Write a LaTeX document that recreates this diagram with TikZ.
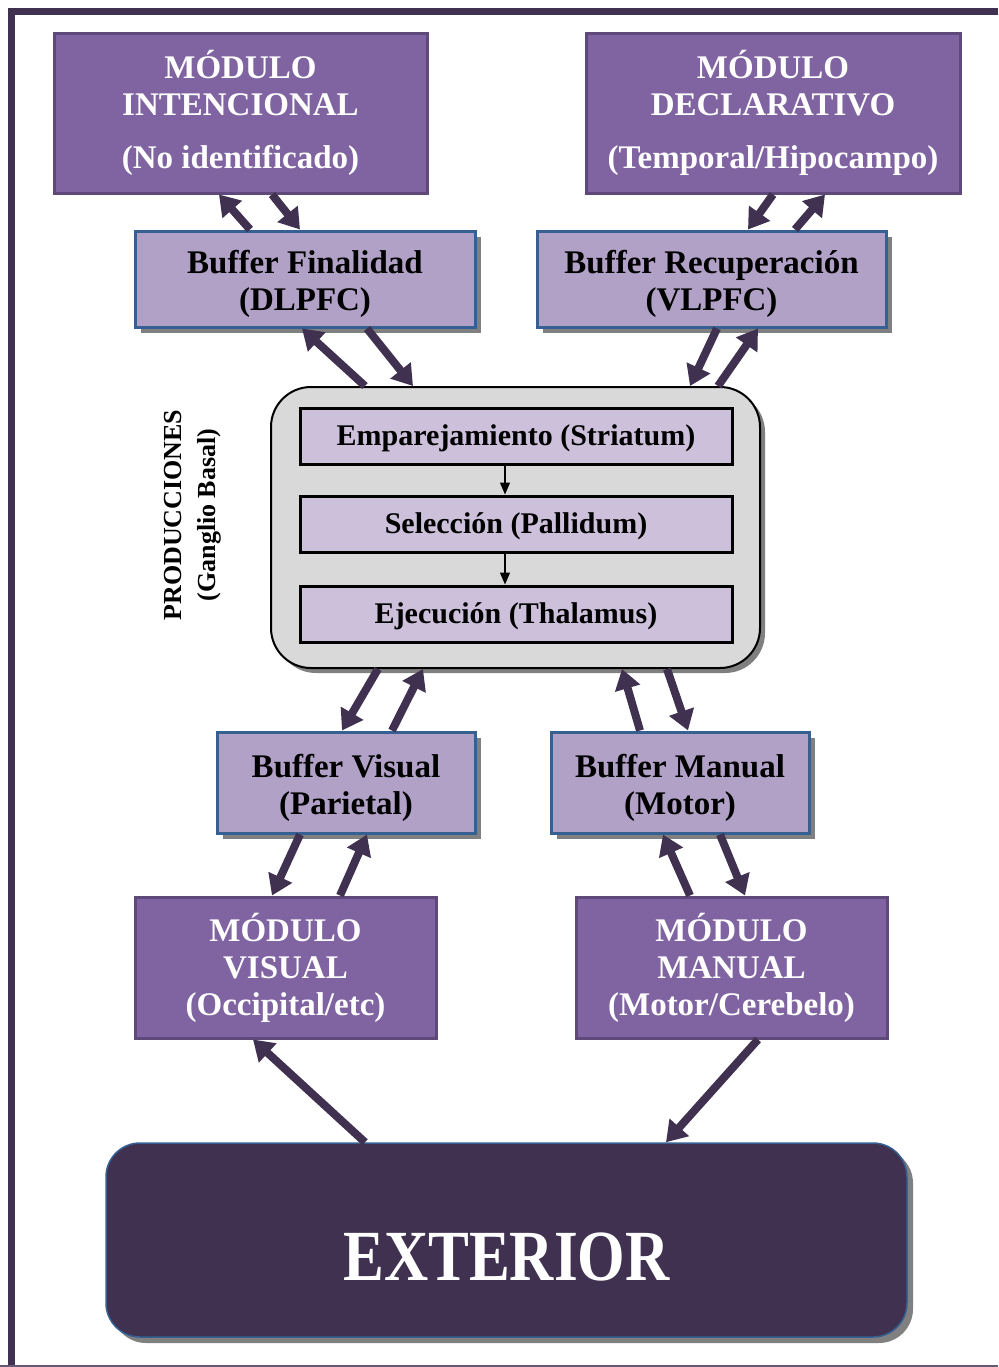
\documentclass[tikz,border=0pt]{standalone}
\usepackage{graphicx}
\usepackage{fontspec}
\setmainfont{Liberation Serif}
\usepackage{tikz}
\usetikzlibrary{arrows.meta,shadows}
\definecolor{modfill}{HTML}{8064A2}
\definecolor{modline}{HTML}{5F497A}
\definecolor{buffill}{HTML}{B2A1C7}
\definecolor{bufline}{HTML}{366092}
\definecolor{etapafill}{HTML}{CCC0DA}
\definecolor{prodfill}{HTML}{D9D9D9}
\definecolor{oscuro}{HTML}{403151}
\definecolor{sombra}{HTML}{808080}
\newcommand{\alto}{\rule{0pt}{17pt}}

\begin{document}
\begin{tikzpicture}[x=0.5pt,y=-0.5pt,
  modulo/.style={draw=modline,line width=1.5pt,fill=modfill,text=white,align=center,inner sep=0pt,
    font=\fontsize{16.5}{18.5}\selectfont\bfseries},
  buffer/.style={draw=bufline,line width=1.5pt,fill=buffill,align=center,inner sep=0pt,
    font=\fontsize{16.5}{18.5}\selectfont\bfseries,
    drop shadow={shadow xshift=3pt,shadow yshift=-3pt,fill=sombra,opacity=1}},
  etapa/.style={draw=black,line width=1.5pt,fill=etapafill,minimum width=216pt,minimum height=28pt,
    inner sep=0pt,text height=11pt,text depth=2pt,font=\fontsize{15}{17}\selectfont\bfseries},
  flecha/.style={draw=oscuro,line width=4pt,-{Triangle[length=10pt,width=12.5pt]}},
  paso/.style={draw=black,line width=0.6pt,-{Triangle[length=6pt,width=5pt]}}]
\useasboundingbox (0,0) rectangle (998,1367);
% marco
\draw[oscuro,line width=3.5pt] (11,1367) -- (11,11.5) -- (998,11.5);
\draw[oscuro!80,line width=1pt] (0,1365.5) -- (998,1365.5);

% modulos y buffers
\node[modulo,minimum width=186.5pt,minimum height=80pt] (modInt) at (240.5,113) {MÓDULO\\INTENCIONAL\\[8pt](No identificado)};
\node[modulo,minimum width=187pt,minimum height=80pt] (modDecl) at (773,113) {MÓDULO\\DECLARATIVO\\[8pt](Temporal/Hipocampo)};
\node[buffer,minimum width=170pt,minimum height=48pt] (bufFin) at (305,279) {\alto Buffer Finalidad\\(DLPFC)};
\node[buffer,minimum width=174.5pt,minimum height=48pt] (bufRec) at (711.5,279) {\alto Buffer Recuperación\\(VLPFC)};

% producciones
\node[draw=black,line width=1pt,fill=prodfill,rounded corners=20pt,minimum width=244.5pt,minimum height=140.5pt,
  drop shadow={shadow xshift=2.5pt,shadow yshift=-2.5pt,fill=sombra,opacity=1}] (prod) at (515.5,527.5) {};
\node[etapa] (emp) at (516,436) {Emparejamiento (Striatum)};
\node[etapa] (sel) at (516,524) {Selección (Pallidum)};
\node[etapa] (eje) at (516,614) {Ejecución (Thalamus)};
\draw[paso] ([xshift=-5.5pt]emp.south) -- ([xshift=-5.5pt]sel.north);
\draw[paso] ([xshift=-5.5pt]sel.south) -- ([xshift=-5.5pt]eje.north);
\node[rotate=90,align=center,font=\fontsize{13}{17}\selectfont\bfseries] (etiqProd) at (193,515) {PRODUCCIONES\\(Ganglio Basal)};

\node[buffer,minimum width=129pt,minimum height=50.5pt] (bufVis) at (346,782.5) {\alto Buffer Visual\\(Parietal)};
\node[buffer,minimum width=129pt,minimum height=50.5pt] (bufMan) at (680,782.5) {\alto Buffer Manual\\(Motor)};
\node[modulo,minimum width=150.5pt,minimum height=70.5pt] (modVis) at (285.5,967.5) {MÓDULO\\VISUAL\\(Occipital/etc)};
\node[modulo,minimum width=155.5pt,minimum height=70.5pt] (modMan) at (731.5,967.5) {MÓDULO\\MANUAL\\(Motor/Cerebelo)};

\node[draw=bufline,line width=0.75pt,fill=oscuro,rounded corners=17pt,minimum width=400.5pt,minimum height=97pt,
  text=white,text height=40pt,text depth=0pt,font=\fontsize{36}{40}\selectfont\bfseries,
  drop shadow={shadow xshift=3pt,shadow yshift=-3pt,fill=sombra,opacity=1}] (ext) at (506.5,1240) {\scalebox{0.85}[1]{EXTERIOR}};

% conexiones
\draw[flecha] ([xshift=-27.5pt]bufFin.north) -- ([xshift=-10.75pt]modInt.south);
\draw[flecha] ([xshift=15.75pt]modInt.south) -- ([xshift=-2.5pt]bufFin.north);
\draw[flecha] ([xshift=-75.25pt]prod.north) -- ([xshift=-1.5pt]bufFin.south);
\draw[flecha] ([xshift=31pt]bufFin.south) -- ([xshift=-51.25pt]prod.north);
\draw[flecha] (modDecl.south) -- ([xshift=18.25pt]bufRec.north);
\draw[flecha] ([xshift=41.75pt]bufRec.north) -- ([xshift=26pt]modDecl.south);
\draw[flecha] ([xshift=2.75pt]bufRec.south) -- ([xshift=87.25pt]prod.north);
\draw[flecha] ([xshift=101.25pt]prod.north) -- ([xshift=23.25pt]bufRec.south);
\draw[flecha] ([xshift=-68.75pt]prod.south) -- ([xshift=-2pt]bufVis.north);
\draw[flecha] ([xshift=23pt]bufVis.north) -- ([xshift=-46.25pt]prod.south);
\draw[flecha] ([xshift=-23pt]bufVis.south) -- ([xshift=-6.75pt]modVis.north);
\draw[flecha] ([xshift=27.25pt]modVis.north) -- ([xshift=10.5pt]bufVis.south);
\draw[flecha] ([xshift=-20pt]bufMan.north) -- ([xshift=53.25pt]prod.south);
\draw[flecha] ([xshift=75.75pt]prod.south) -- ([xshift=4pt]bufMan.north);
\draw[flecha] ([xshift=-20.75pt]modMan.north) -- ([xshift=-8.5pt]bufMan.south);
\draw[flecha] ([xshift=20pt]bufMan.south) -- ([xshift=6.75pt]modMan.north);
\draw[flecha] ([xshift=-70.75pt]ext.north) -- ([xshift=-16.25pt]modVis.south);
\draw[flecha] ([xshift=13.25pt]modMan.south) -- ([xshift=79.75pt]ext.north);
\end{tikzpicture}
\end{document}
